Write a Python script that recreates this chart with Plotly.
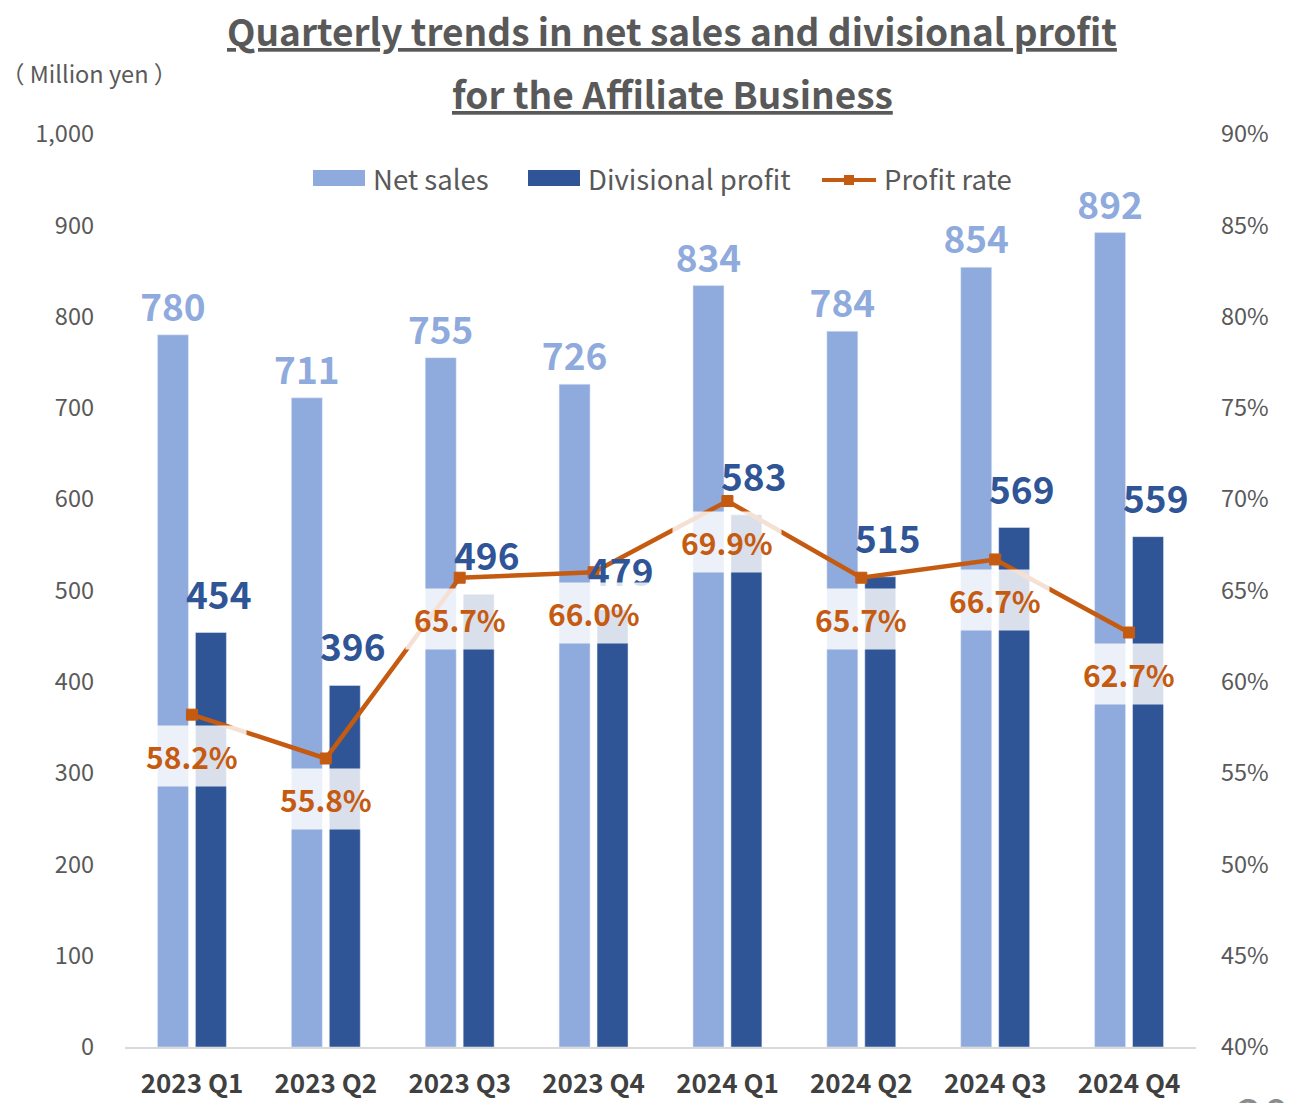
import plotly.graph_objects as go

categories = ["2023 Q1", "2023 Q2", "2023 Q3", "2023 Q4", "2024 Q1", "2024 Q2", "2024 Q3", "2024 Q4"]
net_sales = [780, 711, 755, 726, 834, 784, 854, 892]
div_profit = [454, 396, 496, 479, 583, 515, 569, 559]
profit_rate = [58.2, 55.8, 65.7, 66.0, 69.9, 65.7, 66.7, 62.7]
legend_names = ["Net sales", "Divisional profit", "Profit rate"]

FONT = "Noto Sans CJK JP"
LIGHT = "#8FAADC"
DARK = "#2F5597"
ORANGE = "#C55A11"
GREY = "#595959"

# page is rendered with an 8px body margin
OFF = 8
W, H = 1294 - OFF, 1103 - OFF
L, R, T, B = 125 - OFF, 98, 134 - OFF, 56
PW, PH = W - L - R, H - T - B

def px_x(px):
    return (px - OFF - L) / PW

def px_y(py):
    return (H + OFF - B - py) / PH

fig = go.Figure()
fig.add_trace(go.Bar(
    x=categories, y=net_sales, name=legend_names[0], marker_color=LIGHT,
    text=[str(v) for v in net_sales], textposition="outside", cliponaxis=False,
    textfont=dict(family=FONT, size=37, color=LIGHT, weight="bold"),
    constraintext="none", showlegend=False,
))
fig.add_trace(go.Bar(
    x=categories, y=div_profit, name=legend_names[1], marker_color=DARK,
    showlegend=False,
))
fig.add_trace(go.Scatter(
    x=categories, y=profit_rate, name=legend_names[2], yaxis="y2",
    mode="lines+markers", line=dict(color=ORANGE, width=4.5),
    marker=dict(symbol="square", size=11, color=ORANGE, line=dict(color=ORANGE, width=1)),
    showlegend=False,
))

annotations = []
# divisional profit value labels (slightly right of the dark bar)
for c, v in zip(categories, div_profit):
    annotations.append(dict(
        x=c, y=v, xref="x", yref="y", xshift=27, yshift=40, showarrow=False,
        yanchor="middle", text=f"<b>{v}</b>",
        font=dict(family=FONT, size=37, color=DARK),
    ))
# profit rate labels with translucent white box
for c, r in zip(categories, profit_rate):
    annotations.append(dict(
        x=c, y=r, xref="x", yref="y2", yshift=-41, showarrow=False,
        text=f"<b>{r:.1f}%</b>", font=dict(family=FONT, size=30, color=ORANGE),
        bgcolor="rgba(255,255,255,0.82)", borderpad=8,
    ))

annotations += [
    dict(x=px_x(672), y=px_y(30), xref="paper", yref="paper", showarrow=False,
         text="<b><u>Quarterly trends in net sales and divisional profit</u></b>",
         font=dict(family=FONT, size=37, color=GREY), xanchor="center", yanchor="middle"),
    dict(x=px_x(672), y=px_y(93), xref="paper", yref="paper", showarrow=False,
         text="<b><u>for the Affiliate Business</u></b>",
         font=dict(family=FONT, size=37, color=GREY), xanchor="center", yanchor="middle"),
    dict(x=px_x(89), y=px_y(73), xref="paper", yref="paper", showarrow=False,
         text="（ Million yen ）", font=dict(family=FONT, size=23.5, color=GREY),
         xanchor="center", yanchor="middle"),
    dict(x=px_x(1262), y=px_y(1076), xref="paper", yref="paper", showarrow=False,
         text="20", font=dict(family=FONT, size=48, color="#8C8C8C"),
         xanchor="center", yanchor="top"),
]

# custom legend (wide swatches like the reference)
shapes = []
leg_y = 178
swatches = [(313, LIGHT, 371), (528, DARK, 586)]
for (x0, col, tx), name in zip(swatches, legend_names[:2]):
    shapes.append(dict(type="rect", xref="paper", yref="paper",
                       x0=px_x(x0), x1=px_x(x0 + 52), y0=px_y(leg_y + 8), y1=px_y(leg_y - 8),
                       fillcolor=col, line=dict(width=0)))
    annotations.append(dict(x=px_x(tx), y=px_y(leg_y), xref="paper", yref="paper",
                            showarrow=False, text=name, xanchor="left", yanchor="middle",
                            font=dict(family=FONT, size=27.5, color=GREY)))
shapes.append(dict(type="line", xref="paper", yref="paper",
                   x0=px_x(822), x1=px_x(876), y0=px_y(leg_y + 2), y1=px_y(leg_y + 2),
                   line=dict(color=ORANGE, width=4)))
shapes.append(dict(type="rect", xref="paper", yref="paper",
                   x0=px_x(844), x1=px_x(854), y0=px_y(leg_y + 7), y1=px_y(leg_y - 3),
                   fillcolor=ORANGE, line=dict(width=0)))
annotations.append(dict(x=px_x(882), y=px_y(leg_y), xref="paper", yref="paper",
                        showarrow=False, text=legend_names[2], xanchor="left", yanchor="middle",
                        font=dict(family=FONT, size=27.5, color=GREY)))

fig.update_layout(
    width=W, height=H,
    margin=dict(l=L, r=R, t=T, b=B, pad=0, autoexpand=False),
    paper_bgcolor="white", plot_bgcolor="white",
    barmode="group", bargap=0.433, bargroupgap=0.184,
    font=dict(family=FONT, color=GREY),
    showlegend=False,
    xaxis=dict(showline=True, linecolor="#D9D9D9", linewidth=2, showgrid=False, automargin=False,
               tickfont=dict(family=FONT, size=26, color="#404040", weight="bold"),
               ticks="", ticklabelstandoff=13),
    yaxis=dict(range=[0, 1000], dtick=100, tickformat=",", showgrid=False, zeroline=False,
               automargin=False,
               tickfont=dict(family=FONT, size=23.5, color=GREY), ticks="", ticklabelstandoff=30),
    yaxis2=dict(range=[40, 90], dtick=5, ticksuffix="%", overlaying="y", side="right",
                showgrid=False, zeroline=False, automargin=False,
                tickfont=dict(family=FONT, size=23.5, color=GREY), ticks="", ticklabelstandoff=24),
    annotations=annotations,
    shapes=shapes,
)

fig.write_html("out.html")
